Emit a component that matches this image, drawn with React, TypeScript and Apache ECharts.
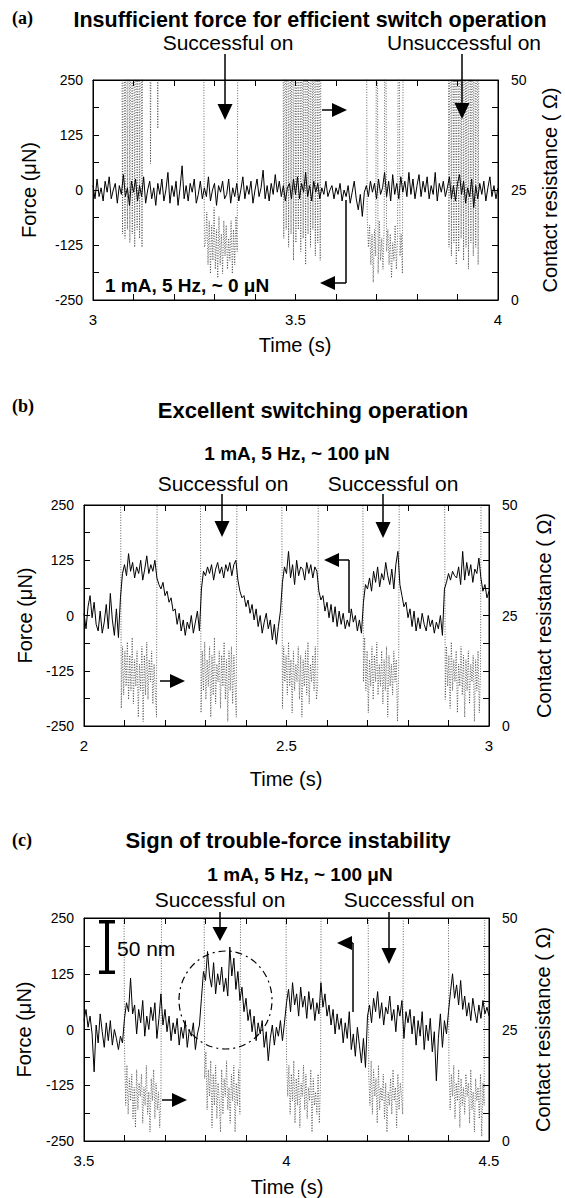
import React, { useEffect, useRef } from "react";
import * as echarts from "echarts";

const SANS = "'Liberation Sans', Arial, Helvetica, sans-serif";
const SERIF = "'Liberation Serif', 'Times New Roman', serif";

// sampling steps (s)
const DT_F = 0.005;
const DT_R = 0.003;

// Panel (a): force (µN), 3.0 → 4.0 s
const forceA = [
  10, -20, 25, -15, 5, -25, 20, -5, 30, -20, 0, 15, -30, 10, -10, 35, -15, 5, -35, 20,
  -5, 25, -25, 10, -15, 30, -30, 0, 20, -20, 5, -35, 15, -10, 25, -25, 0, 40, -30, 10,
  -15, 20, -35, 5, 55, -20, 10, -25, 15, -5, 25, -30, -10, 20, -20, 5, -15, 30, -25, 0,
  15, -35, 10, -5, 20, -20, -10, 25, -30, 5, -15, 15, -25, 0, 30, -20, 10, -10, 20, -30,
  0, 25, -15, 5, 45, -20, 10, -25, 15, -10, 35, -5, 20, -15, 10, -25, 5, 15, -20, 25,
  -10, 30, -20, 15, -5, 40, -15, 10, -25, 20, -5, 15, -20, 5, -10, 20, -15, 0, 10, -20,
  5, -10, 15, -25, 0, -15, 10, -30, -5, 20, -20, -45, -10, -60, -5, 10, -15, 20, -5, 15,
  -20, 25, -10, 5, 40, -15, 20, -25, 35, -10, 15, -20, 30, -5, 20, -15, 40, -10, 25, -20,
  10, 35, -15, 20, -5, 30, -20, 10, -10, 40, -25, 15, -5, 20, -15, 5, 30, -20, 10, -25,
  15, 35, -10, 20, -30, 5, -15, 25, -40, 10, -20, 15, -10, 20, -25, 5, 30, -15, 10, -20,
  5,
];

// Panel (b): force (µN), 2.0 → 3.0 s
const forceB = [
  5, -30, 20, 45, -5, 30, -20, -35, 10, -40, -15, 25, -30, 50, -10, -45, 15, -50, 40, 95,
  115, 90, 140, 100, 120, 85, 110, 95, 125, 80, 105, 135, 95, 115, 100, 125, 85, 70, 60, 75,
  45, 55, 30, 40, 10, 15, -20, 5, -35, -10, -45, -15, -30, 0, -40, -15, 10, -35, 60, 100,
  90, 110, 95, 115, 80, 105, 120, 95, 110, 85, 115, 100, 120, 90, 115, 125, 80, 55, 40, 45,
  20, 35, 5, 25, -10, 15, -25, 0, -40, -15, 5, -30, -10, -55, -20, -65, -25, 10, 75, 110,
  95, 145, 85, 115, 70, 125, 90, 110, 105, 80, 120, 95, 115, 85, 110, 100, 55, 35, 45, 10,
  30, -5, 25, -15, 20, -25, 10, -20, 5, -30, -10, -25, 15, -15, 0, -35, -10, -40, 30, 70,
  60, 85, 55, 100, 75, 110, 65, 95, 80, 120, 90, 70, 105, 60, 115, 145, 70, 45, 20, 30,
  -5, 15, -25, 10, -35, -5, -30, 5, -20, -35, 0, -25, -10, -40, -15, -30, 0, -45, 60, 75,
  95, 80, 100, 90, 85, 110, 70, 145, 80, 120, 90, 115, 75, 105, 95, 130, 85, 55, 70, 40,
  55,
];

// Panel (c): force (µN), 3.5 → 4.5 s
const forceC = [
  20, 45, 5, 30, -10, -95, 10, -30, 35, -5, -40, 15, -25, 20, -35, 0, -20, -45, -15, -30,
  25, 60, 40, 115, 35, 55, -10, 45, 15, 65, -15, 30, 0, 50, 20, 60, -20, 25, 80, 10,
  45, -5, 30, -25, 15, -10, 25, -35, 5, -20, 20, -40, 0, -15, 15, -45, -10, 10, 70, 130,
  110, 175, 120, 95, 150, 80, 125, 100, 140, 85, 115, 75, 185, 120, 160, 90, 130, 65, 95, 40,
  70, 20, 45, -5, 30, -25, 15, -10, 20, -40, -5, -70, -20, 10, -35, 5, -15, 20, -25, 15,
  60, 90, 40, 105, 55, 80, 30, 95, 50, 75, 25, 85, 45, 70, 20, 60, 35, 105, 50, 80,
  30, 55, 10, 45, -10, 35, 0, 25, -30, 15, -20, 40, -45, -10, -60, 5, -35, -75, -20, -85,
  30, 55, 15, 70, 40, 85, 25, 60, 10, 50, 35, 75, 20, 45, -5, 55, 30, 65, -20, 40,
  15, 45, -10, 30, -35, 20, -15, 40, -45, 10, -25, 25, -50, -5, -115, -20, 35, -40, 20, -10,
  40, 85, 125, 70, 100, 55, 110, 45, 75, 30, 60, 20, 70, 40, 15, 55, 25, 65, 35, 50,
  30,
];

// Contact resistance bursts (Ω); 99 = open contact (off scale)
const burstStartsA = [3.07, 3.139, 3.157, 3.272, 3.468, 3.674, 3.876];
const burstValuesA = [
  [99, 15, 99, 14, 99, 16, 99, 13, 99, 15, 99, 12, 99, 16, 99, 14, 99, 12, 99],
  [99, 31, 99],
  [99, 39, 99],
  [99, 12, 13, 20, 8, 18, 6, 17, 9, 21, 7, 16, 5, 19, 8, 15, 6, 18, 10, 17, 7, 14, 9, 18, 6, 16, 8, 19, 11, 99],
  [99, 14, 99, 16, 99, 12, 99, 15, 99, 9, 99, 13, 99, 16, 99, 11, 99, 14, 99, 8, 99, 15, 99, 12, 99, 16, 99, 10, 99, 13, 99, 9, 99],
  [99, 19, 12, 17, 8, 15, 4, 16, 10, 99, 6, 18, 9, 14, 7, 17, 99, 11, 16, 8, 15, 5, 13, 9, 17, 7, 14, 99, 10, 15, 6, 99],
  [99, 12, 99, 10, 99, 13, 99, 8, 99, 11, 99, 14, 99, 9, 99, 12, 99, 7, 99, 13, 99, 10, 99, 12, 99, 8, 99],
];

const burstStartsB = [2.089, 2.286, 2.487, 2.687, 2.889];
const burstValuesB = [
  [99, 4, 18, 7, 17, 9, 19, 6, 16, 8, 20, 5, 15, 9, 17, 2, 14, 8, 18, 1, 16, 7, 19, 6, 15, 10, 17, 5, 14, 8, 2, 99],
  [99, 3, 17, 8, 19, 6, 15, 9, 18, 2, 16, 7, 20, 5, 14, 10, 17, 4, 16, 9, 19, 6, 15, 1, 17, 8, 18, 5, 16, 9, 2, 99],
  [99, 4, 18, 10, 16, 7, 19, 9, 15, 3, 17, 8, 14, 10, 18, 6, 16, 2, 15, 9, 17, 7, 19, 5, 14, 10, 16, 8, 18, 6, 9, 99],
  [99, 10, 20, 8, 17, 3, 15, 9, 18, 6, 16, 10, 19, 7, 14, 9, 17, 5, 15, 8, 18, 2, 16, 9, 14, 7, 17, 10, 15, 1, 12, 99],
  [99, 6, 18, 9, 16, 4, 19, 8, 15, 10, 17, 3, 14, 9, 18, 7, 16, 2, 15, 8, 17, 5, 14, 10, 16, 1, 15, 8, 17, 3, 12, 99],
];

const burstStartsC = [3.597, 3.795, 3.997, 4.2, 4.398];
const burstValuesC = [
  [99, 21, 8, 17, 6, 14, 9, 15, 5, 12, 3, 16, 7, 13, 10, 15, 4, 12, 8, 17, 6, 11, 2, 14, 9, 16, 5, 13, 7, 11, 3, 10, 99],
  [99, 14, 20, 7, 16, 10, 18, 3, 15, 8, 17, 5, 13, 9, 2, 16, 6, 14, 10, 18, 7, 12, 4, 15, 9, 17, 2, 13, 8, 16, 6, 99],
  [99, 19, 10, 17, 6, 15, 9, 18, 4, 14, 8, 16, 3, 13, 10, 17, 7, 15, 5, 12, 9, 16, 2, 14, 8, 11, 6, 15, 4, 13, 99],
  [99, 15, 8, 18, 6, 16, 10, 14, 4, 17, 7, 12, 9, 15, 5, 13, 2, 11, 8, 14, 6, 16, 9, 12, 3, 15, 7, 13, 10, 6, 99],
  [99, 18, 7, 15, 10, 17, 5, 13, 9, 16, 3, 14, 8, 12, 6, 15, 10, 13, 4, 16, 7, 11, 2, 14, 9, 12, 5, 15, 1, 13, 8, 99],
];

const timeStarts = [3, 2, 3.5];
const forceLists = [forceA, forceB, forceC];
const burstStarts = [burstStartsA, burstStartsB, burstStartsC];
const burstValues = [burstValuesA, burstValuesB, burstValuesC];

// layout (pixels)
const grids = [
  { left: 93, top: 80, width: 405, height: 220 },
  { left: 84, top: 505, width: 405, height: 221 },
  { left: 84, top: 918, width: 405, height: 223 },
];

const txt = (
  text: string,
  x: number,
  y: number,
  size: number,
  weight: string = "normal",
  align: string = "center",
  family: string = SANS,
  rotation: number = 0
) => ({
  type: "text",
  x,
  y,
  rotation,
  z: 10,
  style: {
    text,
    fontSize: size,
    fontWeight: weight,
    fontFamily: family,
    fill: "#000",
    align,
    verticalAlign: "middle",
    textAlign: align,
    textVerticalAlign: "middle",
  },
});

const ln = (x1: number, y1: number, x2: number, y2: number, w = 1.5) => ({
  type: "line",
  z: 10,
  shape: { x1, y1, x2, y2 },
  style: { stroke: "#000", lineWidth: w },
});

const tri = (pts: number[][]) => ({
  type: "polygon",
  z: 10,
  shape: { points: pts },
  style: { fill: "#000" },
});

const downArrow = (x: number, yTop: number, yTip: number, hw = 7.5, hh = 16) => [
  ln(x, yTop, x, yTip - hh + 1),
  tri([[x - hw, yTip - hh], [x + hw, yTip - hh], [x, yTip]]),
];

const rightArrow = (x1: number, xTip: number, y: number, hw = 7, hh = 15) => [
  ln(x1, y, xTip - hh + 1, y),
  tri([[xTip - hh, y - hw], [xTip - hh, y + hw], [xTip, y]]),
];

const leftL = (xv: number, yFoot: number, yArm: number, xBase: number, xTip: number, hw = 7) => [
  ln(xv, yFoot, xv, yArm),
  ln(xv, yArm, xBase - 1, yArm),
  tri([[xBase, yArm - hw], [xBase, yArm + hw], [xTip, yArm]]),
];

export default function App() {
  const ref = useRef<HTMLDivElement>(null);

  useEffect(() => {
    document.body.style.margin = "0";
    if (!ref.current) return;
    const chart = echarts.init(ref.current, undefined, { renderer: "svg" });

    const xAxes: any[] = [];
    const yAxes: any[] = [];
    const series: any[] = [];

    grids.forEach((g, p) => {
      const t0 = timeStarts[p];
      const common = {
        type: "value",
        gridIndex: p,
        min: t0,
        max: t0 + 1,
        interval: 0.1,
        splitLine: { show: false },
        axisLine: { show: true, onZero: false, lineStyle: { color: "#000", width: 1 } },
        axisTick: { show: true, inside: true, length: 6, lineStyle: { color: "#000", width: 1 } },
      };
      xAxes.push({
        ...common,
        position: "bottom",
        axisLabel: {
          show: true,
          margin: 12,
          fontSize: 15,
          color: "#000",
          fontFamily: SANS,
          formatter: (v: number) => {
            const k = Math.round(v * 10);
            return k % 5 === 0 ? String(k / 10) : "";
          },
        },
      });
      xAxes.push({ ...common, position: "top", axisLabel: { show: false } });

      yAxes.push({
        type: "value",
        gridIndex: p,
        position: "left",
        min: -250,
        max: 250,
        interval: 62.5,
        splitLine: { show: false },
        axisLine: { show: true, onZero: false, lineStyle: { color: "#000", width: 1 } },
        axisTick: { show: true, inside: true, length: 6, lineStyle: { color: "#000", width: 1 } },
        axisLabel: {
          margin: 10,
          fontSize: 14,
          color: "#000",
          fontFamily: SANS,
          formatter: (v: number) => (Math.round(v) % 125 === 0 ? String(Math.round(v)) : ""),
        },
      });
      yAxes.push({
        type: "value",
        gridIndex: p,
        position: "right",
        min: 0,
        max: 50,
        interval: 6.25,
        splitLine: { show: false },
        axisLine: { show: true, onZero: false, lineStyle: { color: "#000", width: 1 } },
        axisTick: { show: true, inside: true, length: 6, lineStyle: { color: "#000", width: 1 } },
        axisLabel: {
          margin: 13,
          fontSize: 14,
          color: "#000",
          fontFamily: SANS,
          formatter: (v: number) => {
            const k = Math.round(v * 100);
            return k % 2500 === 0 ? String(Math.round(v)) : "";
          },
        },
      });

      const forceData = forceLists[p].map((f, i) => [t0 + i * DT_F, f]);
      const resData: number[][] = [];
      burstStarts[p].forEach((s, b) => {
        burstValues[p][b].forEach((r, i) => resData.push([s + i * DT_R, r]));
      });

      series.push({
        type: "line",
        name: "resistance",
        xAxisIndex: 2 * p,
        yAxisIndex: 2 * p + 1,
        data: resData,
        symbol: "none",
        showSymbol: false,
        clip: true,
        silent: true,
        z: 2,
        lineStyle: { color: "#111", width: 0.65, type: [1, 1.6] },
      });
      series.push({
        type: "line",
        name: "force",
        xAxisIndex: 2 * p,
        yAxisIndex: 2 * p,
        data: forceData,
        symbol: "none",
        showSymbol: false,
        clip: true,
        silent: true,
        z: 3,
        lineStyle: { color: "#000", width: 1 },
      });
    });

    const R90 = Math.PI / 2;
    const graphics: any[] = [
      // panel (a)
      txt("(a)", 12, 18, 18, "bold", "left", SERIF),
      txt("Insufficient force for efficient switch operation", 310, 20, 21.5, "bold"),
      txt("Successful on", 228, 42, 21),
      txt("Unsuccessful on", 464, 42, 21),
      ...downArrow(225, 54, 120),
      ...downArrow(462, 54, 119),
      ...rightArrow(322, 347, 110),
      ...leftL(346, 200, 283, 335, 320),
      txt("1 mA, 5 Hz, ~ 0 \u03bcN", 105, 285, 19, "bold", "left"),
      txt("Force (\u03bcN)", 29, 190, 20, "normal", "center", SANS, R90),
      txt("Contact resistance ( \u03a9)", 550, 190, 20, "normal", "center", SANS, R90),
      txt("Time (s)", 295, 345, 20),

      // panel (b)
      txt("(b)", 12, 406, 18, "bold", "left", SERIF),
      txt("Excellent switching operation", 313, 410, 22, "bold"),
      txt("1 mA, 5 Hz, ~ 100 \u03bcN", 297, 453, 19, "bold"),
      txt("Successful on", 223, 483, 21),
      txt("Successful on", 393, 483, 21),
      ...downArrow(222, 494, 537),
      ...downArrow(383, 494, 538),
      ...rightArrow(160, 185, 681),
      ...leftL(349, 613, 560, 339, 324),
      txt("Force (\u03bcN)", 25, 615.5, 20, "normal", "center", SANS, R90),
      txt("Contact resistance ( \u03a9)", 544, 615.5, 20, "normal", "center", SANS, R90),
      txt("Time (s)", 286, 779, 20),

      // panel (c)
      txt("(c)", 12, 840, 18, "bold", "left", SERIF),
      txt("Sign of trouble-force instability", 288, 840, 22, "bold"),
      txt("1 mA, 5 Hz, ~ 100 \u03bcN", 300, 874, 19, "bold"),
      txt("Successful on", 220, 899, 21),
      txt("Successful on", 409, 899, 21),
      ...downArrow(220, 912, 941, 7.5, 14),
      ...downArrow(389, 912, 964),
      ...rightArrow(162, 187, 1100),
      ...leftL(353, 1012, 943, 352, 337),
      txt("Force (\u03bcN)", 24, 1029.5, 20, "normal", "center", SANS, R90),
      txt("Contact resistance ( \u03a9)", 543, 1029.5, 20, "normal", "center", SANS, R90),
      txt("Time (s)", 287, 1187, 20),
      // 50 nm scale bar
      { type: "rect", z: 10, shape: { x: 105, y: 920, width: 4, height: 54 }, style: { fill: "#000" } },
      { type: "rect", z: 10, shape: { x: 99, y: 920, width: 16, height: 3.5 }, style: { fill: "#000" } },
      { type: "rect", z: 10, shape: { x: 99, y: 970.5, width: 16, height: 3.5 }, style: { fill: "#000" } },
      txt("50 nm", 117, 948, 21, "normal", "left"),
      // dash-dot circle
      {
        type: "ellipse",
        z: 10,
        shape: { cx: 225.5, cy: 1000, rx: 46.5, ry: 49 },
        style: { fill: "none", stroke: "#000", lineWidth: 1.2, lineDash: [7, 4, 2, 4] },
      },
    ];

    chart.setOption({
      animation: false,
      backgroundColor: "#fff",
      grid: grids.map((g) => ({
        ...g,
        show: true,
        borderColor: "#000",
        borderWidth: 1,
        backgroundColor: "transparent",
        containLabel: false,
      })),
      xAxis: xAxes,
      yAxis: yAxes,
      series,
      graphic: graphics,
    });

    return () => chart.dispose();
  }, []);

  return (
    <div
      ref={ref}
      style={{ position: "absolute", left: 0, top: 0, width: 565, height: 1198, background: "#fff" }}
    />
  );
}
